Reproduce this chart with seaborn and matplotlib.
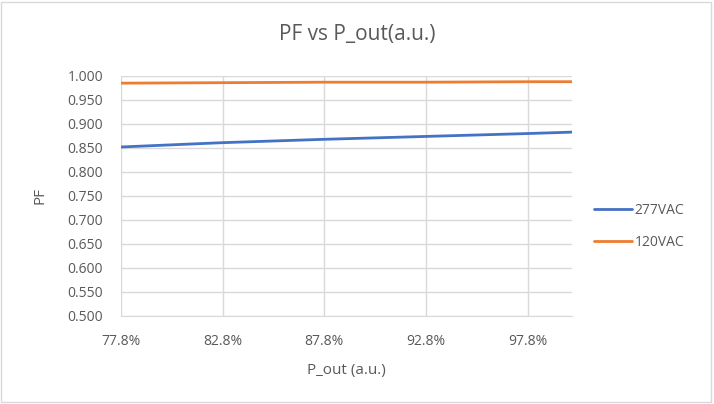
import matplotlib
matplotlib.use("Agg")
from matplotlib import pyplot as plt
from matplotlib.ticker import PercentFormatter
import pandas as pd
import seaborn as sns

p_out = [0.778, 0.828, 0.878, 0.928, 0.978, 1.000]
pf_277 = [0.852, 0.861, 0.868, 0.874, 0.880, 0.883]
pf_120 = [0.985, 0.986, 0.987, 0.987, 0.988, 0.988]
series = ["277VAC", "120VAC"]
x_ticks = [0.778, 0.828, 0.878, 0.928, 0.978]

df = pd.DataFrame({
    "P_out": p_out * 2,
    "PF": pf_277 + pf_120,
    "series": [series[0]] * len(p_out) + [series[1]] * len(p_out),
})

sns.set_style("white")
plt.rcParams['font.family'] = ['Open Sans', 'DejaVu Sans']
gray = "#595959"

fig = plt.figure(figsize=(7.14, 4.04), dpi=100)
ax = fig.add_axes([0.1695, 0.218, 0.632, 0.594])
sns.lineplot(data=df, x="P_out", y="PF", hue="series", hue_order=series,
             palette=["#4472c4", "#ed7d31"], linewidth=2, ax=ax, legend=False)

ax.set_xlim(0.778, 1.0)
ax.set_ylim(0.5, 1.0)
ax.set_xticks(x_ticks)
ax.xaxis.set_major_formatter(PercentFormatter(1.0, decimals=1))
ax.set_yticks([0.5 + 0.05 * i for i in range(11)])
ax.set_yticklabels([f"{0.5 + 0.05 * i:.3f}" for i in range(11)])
ax.grid(True, color="#d9d9d9", linewidth=1)
for s in ["top", "right", "left"]:
    ax.spines[s].set_visible(False)
ax.spines["bottom"].set_color("#d9d9d9")
ax.tick_params(length=0, labelsize=10, colors=gray)
ax.tick_params(axis="y", pad=13)
ax.tick_params(axis="x", pad=13)
ax.set_xlabel("P_out (a.u.)", fontsize=11, color=gray, labelpad=10)
ax.set_ylabel("PF", fontsize=11, color=gray, labelpad=14)
fig.suptitle("PF vs P_out(a.u.)", fontsize=15, color=gray, y=0.94)

handles = [plt.Line2D([], [], color=c, linewidth=2) for c in ["#4472c4", "#ed7d31"]]
fig.legend(handles, series, loc="center left", bbox_to_anchor=(0.815, 0.44),
           frameon=False, fontsize=10, labelcolor=gray, handlelength=2.7,
           handletextpad=0.2, labelspacing=1.25)

border = plt.Rectangle((0.002, 0.005), 0.994, 0.99, transform=fig.transFigure,
                       fill=False, edgecolor="#d9d9d9", linewidth=1)
fig.patches.append(border)

fig.savefig("out.png", dpi=100)
